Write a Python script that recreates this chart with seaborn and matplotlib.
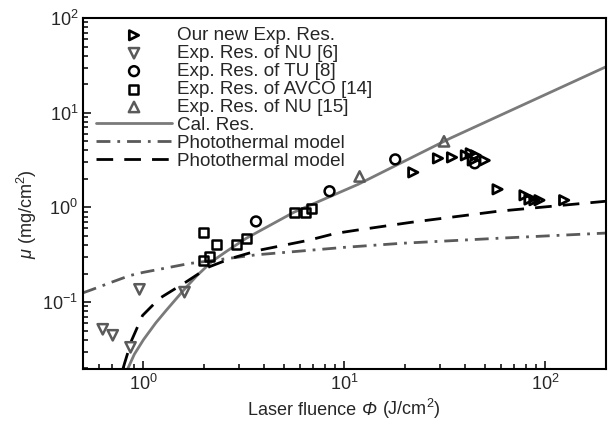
import matplotlib
matplotlib.use('Agg')
import matplotlib.pyplot as plt
from matplotlib.offsetbox import TextArea, HPacker, AnnotationBbox
import seaborn as sns

new_x = [22.0, 29.2, 34.3, 40.2, 42.5, 45.0, 43.5, 49.9, 57.8, 78.7, 83.3, 88.2, 93.4, 124]
new_y = [2.34, 3.29, 3.37, 3.54, 3.72, 3.54, 3.13, 3.13, 1.55, 1.34, 1.21, 1.19, 1.19, 1.19]

nu6_x = [0.627, 0.703, 0.862, 0.955, 1.60]
nu6_y = [0.0515, 0.0445, 0.0332, 0.136, 0.127]

tu_x = [3.63, 8.43, 17.9, 44.5]
tu_y = [0.71, 1.48, 3.21, 2.92]

avco_x = [1.98, 2.00, 2.12, 2.32, 2.89, 3.24, 5.65, 6.41, 6.87]
avco_y = [0.275, 0.545, 0.304, 0.407, 0.407, 0.471, 0.886, 0.886, 0.976]

nu15_x = [11.9, 31.3]
nu15_y = [2.12, 4.98]

# --- model curves ---
cal_x = [0.834, 0.9, 1.0, 1.15, 1.30, 1.63, 1.85, 2.2, 2.6, 3.24, 5.59, 11.7, 33.5, 200]
cal_y = [0.0196, 0.028, 0.040, 0.060, 0.082, 0.143, 0.191, 0.27, 0.345, 0.47, 0.885, 1.75, 5.35, 30.5]

dd_x = [0.5, 0.553, 0.7, 0.853, 0.99, 1.69, 3.63, 10, 19.2, 57.8, 200]
dd_y = [0.125, 0.135, 0.163, 0.19, 0.205, 0.255, 0.315, 0.378, 0.417, 0.471, 0.535]

pt_x = [0.79, 0.805, 0.873, 0.989, 1.2, 1.63, 2.12, 2.73, 3.75, 6.63, 9.0, 11.3, 21.5, 57.8, 200]
pt_y = [0.0196, 0.0225, 0.0394, 0.072, 0.109, 0.163, 0.235, 0.289, 0.352, 0.449, 0.53, 0.571, 0.695, 0.908, 1.16]

sns.set_style('white')
plt.rcParams['font.family'] = ['Liberation Sans', 'DejaVu Sans']
plt.rcParams['mathtext.fontset'] = 'custom'
plt.rcParams['mathtext.rm'] = 'Liberation Sans'
plt.rcParams['mathtext.it'] = 'Liberation Sans:italic'
plt.rcParams['font.size'] = 13

fig = plt.figure(figsize=(6.08, 4.24), dpi=100)
ax = fig.add_axes([0.1365, 0.1297, 0.8600, 0.8278])
ax.set_xscale('log')
ax.set_yscale('log')

GRAY = '#7a7a7a'
DGRAY = '#5a5a5a'

sns.scatterplot(x=new_x, y=new_y, marker='>', s=45, fc='none', ec='black', linewidth=2,
                label='Our new Exp. Res.', ax=ax, zorder=5)
sns.scatterplot(x=nu6_x, y=nu6_y, marker='v', s=55, fc='none', ec=DGRAY, linewidth=1.8,
                label='Exp. Res. of NU [6]', ax=ax, zorder=5)
sns.scatterplot(x=tu_x, y=tu_y, marker='o', s=50, fc='none', ec='black', linewidth=1.8,
                label='Exp. Res. of TU [8]', ax=ax, zorder=5)
sns.scatterplot(x=avco_x, y=avco_y, marker='s', s=42, fc='none', ec='black', linewidth=1.8,
                label='Exp. Res. of AVCO [14]', ax=ax, zorder=5)
sns.scatterplot(x=nu15_x, y=nu15_y, marker='^', s=55, fc='none', ec=DGRAY, linewidth=1.8,
                label='Exp. Res. of NU [15]', ax=ax, zorder=5)

sns.lineplot(x=cal_x, y=cal_y, color=GRAY, linewidth=2, label='Cal. Res.', ax=ax, sort=False)
sns.lineplot(x=dd_x, y=dd_y, color=DGRAY, linewidth=2, ax=ax, sort=False,
             label='Photothermal model', linestyle=(0, (5, 2.5, 1, 2.5)))
sns.lineplot(x=pt_x, y=pt_y, color='black', linewidth=2, ax=ax, sort=False,
             label='Photothermal model', linestyle=(0, (6, 4)))

ax.set_xlim(0.5, 200)
ax.set_ylim(0.0196, 100)

ax.tick_params(which='both', direction='in', top=False, right=False, left=True, bottom=True,
               labelsize=13, width=1.3)
ax.tick_params(which='major', length=6)
ax.tick_params(which='minor', length=3.5)
for sp in ax.spines.values():
    sp.set_linewidth(1.5)
    sp.set_color('black')

# x label with an italic Phi
parts = [TextArea('Laser fluence', textprops=dict(fontsize=13)),
         TextArea('\u03a6', textprops=dict(fontsize=13, style='italic')),
         TextArea('(J/cm$^2$)', textprops=dict(fontsize=13))]
xlab = HPacker(children=parts, align='baseline', pad=0, sep=4)
ax.add_artist(AnnotationBbox(xlab, (0.5, -0.115), xycoords='axes fraction',
                             box_alignment=(0.5, 0.5), frameon=False, annotation_clip=False))

ax.set_ylabel(r'$\mu$ (mg/cm$^2$)', fontsize=13)
ax.yaxis.set_label_coords(-0.085, 0.44)

h, l = ax.get_legend_handles_labels()
ax.legend(h, l, loc='upper left', bbox_to_anchor=(0.0, 1.012), frameon=False, fontsize=13.6,
          handlelength=4.0, handletextpad=0.3, labelspacing=0.037, borderaxespad=0.3)

fig.savefig('out.png', dpi=100)
